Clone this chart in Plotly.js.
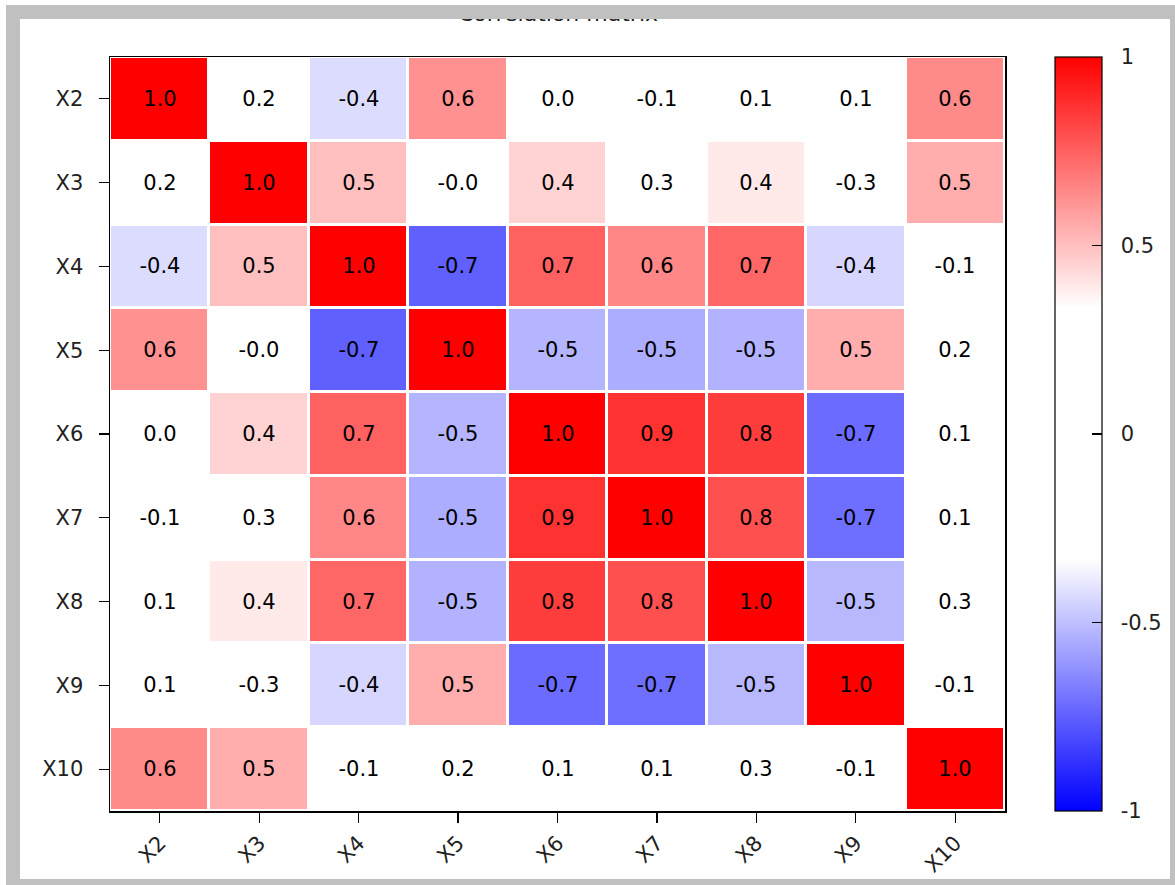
<!DOCTYPE html>
<html>
<head>
<meta charset="utf-8">
<script src="https://cdn.plot.ly/plotly-3.0.1.min.js"></script>
<style>
  html, body { margin: 0; padding: 0; background: #ffffff; width: 1175px; height: 885px; overflow: hidden; }
  #frame { position: absolute; left: 6px; top: 5px; width: 1169px; height: 880px; background: #c0c0c0; }
  #plot { position: absolute; left: 14px; top: 14px; width: 1150px; height: 860px; background: #ffffff; overflow: hidden; }
</style>
</head>
<body>
<div id="frame"><div id="plot"></div></div>
<script>
// Variable names (columns and rows)
const variables = ["X2", "X3", "X4", "X5", "X6", "X7", "X8", "X9", "X10"];

// Correlation matrix rows
const rowX2  = [1.00,  0.18, -0.425,  0.62,   0.02,  -0.08,   0.09,  0.07,  0.64];
const rowX3  = [0.18,  1.00,  0.50,  -0.02,   0.449,  0.30,   0.39, -0.29,  0.548];
const rowX4  = [-0.425, 0.50, 1.00,  -0.748,  0.748,  0.648,  0.73, -0.44, -0.09];
const rowX5  = [0.62, -0.02, -0.748,  1.00,  -0.53,  -0.548, -0.535, 0.548, 0.19];
const rowX6  = [0.02,  0.449, 0.748, -0.53,   1.00,   0.87,   0.84, -0.72,  0.11];
const rowX7  = [-0.08, 0.30,  0.648, -0.548,  0.87,   1.00,   0.79, -0.71,  0.08];
const rowX8  = [0.09,  0.39,  0.73,  -0.535,  0.84,   0.79,   1.00, -0.52,  0.28];
const rowX9  = [0.07, -0.29, -0.44,   0.548, -0.72,  -0.71,  -0.52,  1.00, -0.06];
const rowX10 = [0.64,  0.548, -0.09,  0.19,   0.11,   0.08,   0.28, -0.06,  1.00];

const corr = [rowX2, rowX3, rowX4, rowX5, rowX6, rowX7, rowX8, rowX9, rowX10];
const cellText = corr.map(r => r.map(v => v.toFixed(1)));

// Colour bar ticks
const cbTickVals = [-1, -0.5, 0, 0.5, 1];
const cbTickText = ["-1", "-0.5", "0", "0.5", "1"];

const FONT = "DejaVu Sans, sans-serif";
const PAD = "\u00a0\u00a0";

const trace = {
  type: "heatmap",
  z: corr,
  x: variables,
  y: variables,
  text: cellText,
  texttemplate: "%{text}",
  textfont: { family: FONT, size: 21, color: "#000000" },
  zmin: -1,
  zmax: 1,
  colorscale: [[0, "#0000ff"], [1/3, "#ffffff"], [2/3, "#ffffff"], [1, "#ff0000"]],
  xgap: 3,
  ygap: 3,
  hoverinfo: "skip",
  colorbar: {
    x: 1.056, xanchor: "left", xref: "paper",
    y: 0.5, yanchor: "middle", yref: "paper",
    len: 1, lenmode: "fraction",
    thickness: 47, thicknessmode: "pixels",
    xpad: 0, ypad: 0,
    outlinecolor: "#000000", outlinewidth: 1.2,
    tickmode: "array", tickvals: cbTickVals, ticktext: cbTickText.map(t => PAD + t),
    ticks: "inside", ticklen: 10, tickwidth: 1.2, tickcolor: "#000000",
    tickfont: { family: FONT, size: 21, color: "#222222" }
  }
};

const layout = {
  width: 1150,
  height: 860,
  margin: { l: 90, r: 165, t: 38, b: 68, pad: 0, autoexpand: false },
  paper_bgcolor: "#ffffff",
  plot_bgcolor: "#ffffff",
  font: { family: FONT, size: 21, color: "#222222" },
  xaxis: {
    type: "category",
    tickangle: -45,
    automargin: false,
    ticks: "outside", ticklen: 10, tickwidth: 1.2, tickcolor: "#000000",
    showline: true, linecolor: "#000000", linewidth: 1.5, mirror: true,
    showgrid: false, zeroline: false,
    tickfont: { family: FONT, size: 21, color: "#222222" }
  },
  yaxis: {
    type: "category",
    autorange: "reversed",
    automargin: false,
    ticks: "outside", ticklen: 10, tickwidth: 1.2, tickcolor: "#000000",
    ticklabelstandoff: 11,
    showline: true, linecolor: "#000000", linewidth: 1.5, mirror: true,
    showgrid: false, zeroline: false,
    tickfont: { family: FONT, size: 21, color: "#222222" }
  },
  annotations: [{
    text: "Correlation matrix",
    xref: "paper", yref: "paper",
    x: 0.5, y: 1.058,
    xanchor: "center", yanchor: "middle",
    showarrow: false,
    font: { family: FONT, size: 22, color: "#222222" }
  }]
};

Plotly.newPlot("plot", [trace], layout, { displayModeBar: false, staticPlot: true });
</script>
</body>
</html>
